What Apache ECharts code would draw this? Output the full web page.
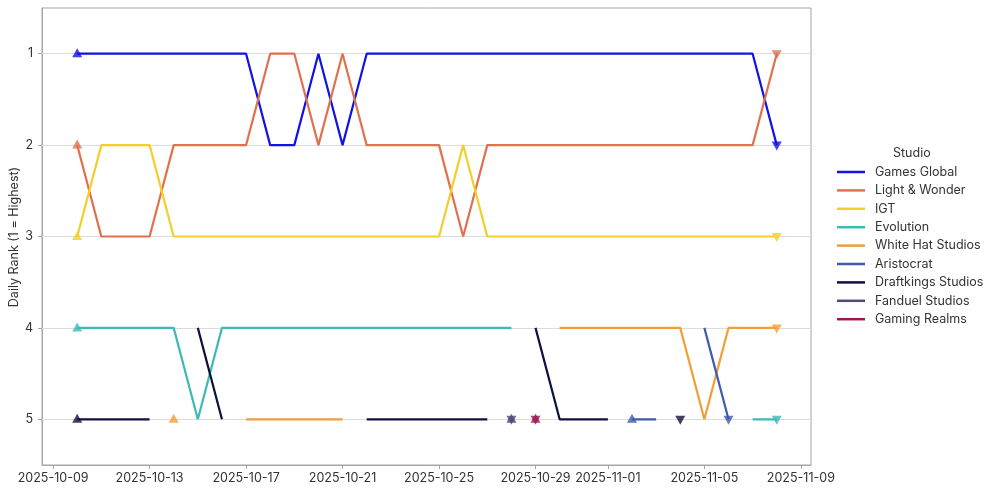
<!DOCTYPE html>
<html>
<head>
<meta charset="utf-8">
<script src="https://cdn.jsdelivr.net/npm/echarts@6/dist/echarts.min.js"></script>
<style>html,body{margin:0;padding:0;background:#fff;}#c{width:1000px;height:494px;}</style>
</head>
<body>
<div id="c"></div>
<script>
var dates = ['2025-10-10','2025-10-11','2025-10-12','2025-10-13','2025-10-14','2025-10-15','2025-10-16','2025-10-17','2025-10-18','2025-10-19',
  '2025-10-20','2025-10-21','2025-10-22','2025-10-23','2025-10-24','2025-10-25','2025-10-26','2025-10-27','2025-10-28','2025-10-29',
  '2025-10-30','2025-10-31','2025-11-01','2025-11-02','2025-11-03','2025-11-04','2025-11-05','2025-11-06','2025-11-07','2025-11-08'];
var xTicks = ['2025-10-09','2025-10-13','2025-10-17','2025-10-21','2025-10-25','2025-10-29','2025-11-01','2025-11-05','2025-11-09'];
var yTicks = [1,2,3,4,5];
var studios = ['Games Global','Light & Wonder','IGT','Evolution','White Hat Studios','Aristocrat','Draftkings Studios','Fanduel Studios','Gaming Realms'];
var colors = ['#1212E6','#E0714F','#F2CF2A','#3DBAB5','#F49E3A','#3F5BA9','#10103E','#4B4B7A','#9E1650'];
var _ = null;
var gamesGlobal  = [1,1,1,1,1,1,1,1,2,2,1,2,1,1,1,1,1,1,1,1,1,1,1,1,1,1,1,1,1,2];
var lightWonder  = [2,3,3,3,2,2,2,2,1,1,2,1,2,2,2,2,3,2,2,2,2,2,2,2,2,2,2,2,2,1];
var igt          = [3,2,2,2,3,3,3,3,3,3,3,3,3,3,3,3,2,3,3,3,3,3,3,3,3,3,3,3,3,3];
var evolution    = [4,4,4,4,4,5,4,4,4,4,4,4,4,4,4,4,4,4,4,_,_,_,_,_,_,_,_,_,5,5];
var whiteHat     = [_,_,_,_,5,_,_,5,5,5,5,5,_,_,_,_,_,_,_,_,4,4,4,4,4,4,5,4,4,4];
var aristocrat   = [_,_,_,_,_,_,_,_,_,_,_,_,_,_,_,_,_,_,_,_,_,_,_,5,5,_,4,5,_,_];
var draftkings   = [5,5,5,5,_,4,5,_,_,_,_,_,5,5,5,5,5,5,_,4,5,5,5,_,_,5,_,_,_,_];
var fanduel      = [_,_,_,_,_,_,_,_,_,_,_,_,_,_,_,_,_,_,5,_,_,_,_,_,_,_,_,_,_,_];
var gamingRealms = [_,_,_,_,_,_,_,_,_,_,_,_,_,_,_,_,_,_,_,5,_,_,_,_,_,_,_,_,_,_];
var seriesValues = [gamesGlobal, lightWonder, igt, evolution, whiteHat, aristocrat, draftkings, fanduel, gamingRealms];

function ts(d){ var p = d.split('-'); return Date.UTC(+p[0], +p[1]-1, +p[2]); }
var DAY = 86400000;
var xs = dates.map(ts);
var tickTs = xTicks.map(ts);
var xMin = tickTs[0] - 0.46*DAY, xMax = tickTs[tickTs.length-1] + 0.42*DAY;
var FONT = 'Inter, "Noto Sans", sans-serif';

var series = [];
seriesValues.forEach(function(vals, k){
  series.push({
    name: studios[k], type: 'line', showSymbol: false, connectNulls: false,
    data: vals.map(function(v,i){ return [xs[i], v]; }),
    lineStyle: {width: 2.2, color: colors[k]}, itemStyle: {color: colors[k]},
    z: 3, silent: true, animation: false
  });
});
var first = [], last = [];
seriesValues.forEach(function(vals, k){
  var f = -1, l = -1;
  vals.forEach(function(v,i){ if (v !== null) { if (f < 0) f = i; l = i; } });
  first.push({value: [xs[f], vals[f]], itemStyle: {color: colors[k]}});
  last.push({value: [xs[l], vals[l]], itemStyle: {color: colors[k]}});
});
series.push({name: 'start', type: 'scatter', symbol: 'triangle', symbolSize: [10, 9], data: first, z: 5, silent: true, animation: false, symbolOffset: [0, -1]});
series.push({name: 'end', type: 'scatter', symbol: 'triangle', symbolRotate: 180, symbolSize: [10, 9], data: last, z: 5, silent: true, animation: false, symbolOffset: [0, 1]});
series.push({name: 'grid', type: 'line', data: [], silent: true, animation: false, z: 1,
  markLine: {silent: true, symbol: 'none', label: {show: false}, animation: false, z: 1,
    lineStyle: {color: '#dcdcdc', width: 1, type: 'solid'},
    data: yTicks.map(function(v){ return {yAxis: v}; })}});

var chart = echarts.init(document.getElementById('c'), null, {renderer: 'canvas'});
chart.setOption({
  animation: false,
  backgroundColor: '#fff',
  grid: {left: 42, right: 189, top: 8, bottom: 29, show: true, borderColor: '#a6a6a6', borderWidth: 1,
    containLabel: false, outerBoundsMode: 'none'},
  xAxis: {
    type: 'value', min: xMin, max: xMax,
    axisLine: {show: true, lineStyle: {color: '#a6a6a6', width: 1}},
    axisTick: {show: true, length: 4, lineStyle: {color: '#a6a6a6'}, customValues: tickTs},
    axisLabel: {customValues: tickTs, color: '#333', fontFamily: FONT, fontSize: 12.5, margin: 7,
      formatter: function(v){ var d = new Date(Math.round(v/DAY)*DAY); var m = d.getUTCMonth()+1, dd = d.getUTCDate();
        return d.getUTCFullYear() + '-' + (m<10?'0':'') + m + '-' + (dd<10?'0':'') + dd; }},
    splitLine: {show: false}
  },
  yAxis: {
    type: 'value', min: 0.5, max: 5.5, inverse: true,
    axisLine: {show: true, lineStyle: {color: '#a6a6a6', width: 1}},
    axisTick: {show: true, length: 4, lineStyle: {color: '#a6a6a6'}, customValues: yTicks},
    axisLabel: {customValues: yTicks, color: '#333', fontFamily: FONT, fontSize: 12.5, margin: 9},
    splitLine: {show: false}
  },
  legend: {
    orient: 'vertical', left: 837, top: 165, data: studios, icon: 'rect',
    itemWidth: 28, itemHeight: 2.5, itemGap: 4.4,
    textStyle: {color: '#333', fontFamily: FONT, fontSize: 12.5, lineHeight: 14, padding: [0,0,0,5]},
    selectedMode: false, padding: 0
  },
  graphic: [
    {type: 'text', left: 893, top: 147, style: {text: 'Studio', fill: '#333', font: '12.5px ' + FONT}},
    {type: 'text', x: 14, y: 237, rotation: Math.PI/2,
      style: {text: 'Daily Rank (1 = Highest)', fill: '#333', font: '12.5px ' + FONT, align: 'center', verticalAlign: 'middle'}}
  ],
  series: series
});
</script>
</body>
</html>
